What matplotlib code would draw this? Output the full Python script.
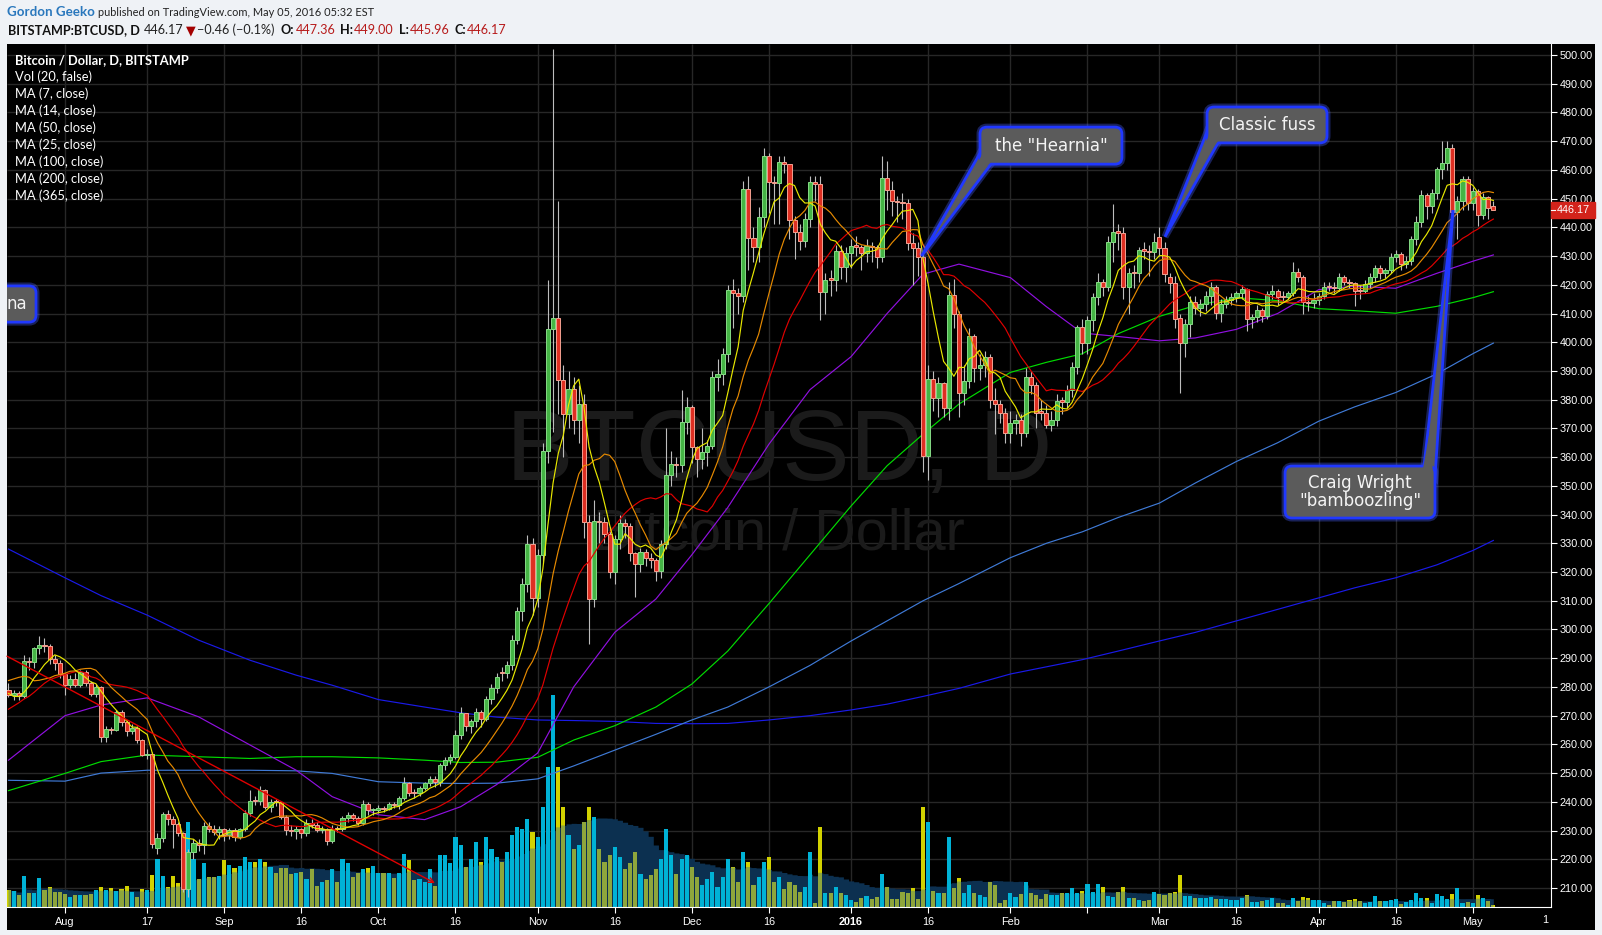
import numpy as np
import pandas as pd
import matplotlib
matplotlib.use("Agg")
import matplotlib.pyplot as plt
import matplotlib.dates as mdates
from matplotlib.patches import FancyBboxPatch, Polygon, Rectangle
from matplotlib.transforms import IdentityTransform, blended_transform_factory

W, H = 1602, 935

# ---- daily candles, Bitstamp BTCUSD, 2015-07-21 .. 2016-05-05 ----
first_day = "2015-07-21"

opens = [
    279.1, 277.2, 277.8, 276.7, 289.1, 288.8, 293.4, 294.5, 294.2, 289.9, 288.3,  # Jul
    284.5, 280.6, 282.6, 280.6, 285.2, 281.2, 277.7, 280.1, 262.6, 265.2, 265.0, 271.3, 267.9, 264.7, 265.7,
    261.7, 256.3, 256.6, 224.1, 227.3, 235.6, 234.0, 232.2, 229.0, 209.8, 222.6, 225.7, 225.0, 231.5, 230.7, 229.6,  # Aug
    230.4, 228.4, 230.1, 227.8, 230.4, 236.0, 240.4, 240.2, 244.0, 238.3, 240.0, 239.8, 234.8, 230.2, 230.0,
    230.4, 229.0, 232.7, 232.0, 230.2, 230.4, 226.4, 230.7, 230.5, 234.2, 235.4, 234.2, 232.7, 239.4, 237.1,  # Sep
    237.3, 237.7, 237.5, 239.2, 238.9, 241.2, 246.6, 243.1, 243.0, 244.7, 246.4, 248.1, 246.8, 252.8, 254.5, 255.5,
    263.2, 270.8, 266.5, 268.0, 271.4, 268.8, 275.7, 279.6, 285.0, 284.7, 287.7, 296.4, 306.4, 315.8, 329.6,  # Oct
    311.1, 326.1, 362.3, 404.5, 408.3, 387.0, 375.0, 383.8, 373.1, 378.4, 337.3, 310.6, 337.8, 337.4, 333.4,
    320.0, 331.6, 337.0, 336.2, 326.5, 322.7, 327.0, 324.9, 324.1, 320.2, 329.6, 353.7, 357.6, 357.2, 372.2,  # Nov
    377.3, 363.4, 359.5, 361.8, 364.0, 388.0, 389.0, 395.9, 418.2, 417.0, 416.2, 453.2, 436.2, 433.0, 443.5, 464.8,
    455.9, 455.5, 462.6, 461.9, 442.6, 438.5, 435.4, 442.8, 455.7, 455.0, 417.4, 422.2, 421.7, 431.9, 426.3,  # Dec
    430.9, 434.0, 433.2, 431.2, 433.5, 433.0, 429.8, 457.1, 453.0, 449.3, 448.9, 448.4, 434.4, 432.7, 429.8, 360.4,
    387.1, 380.5, 385.7, 377.0, 416.5, 409.8, 382.4, 386.6, 402.2, 390.9, 392.1, 395.0, 379.9, 378.5, 375.5,  # Jan
    368.5, 371.8, 373.1, 368.5, 387.8, 385.1, 375.9, 375.5, 371.2, 372.9, 379.9, 379.3, 383.4, 391.3, 405.2,
    399.6, 407.7, 415.6, 421.1, 419.3, 434.8, 438.9, 438.1, 419.1, 424.4, 424.0, 432.3, 431.9, 431.5,  # Feb
    436.8, 432.7, 422.6, 420.5, 408.3, 399.8, 406.3, 414.1, 411.8, 413.3, 416.1, 419.1, 410.3, 413.3, 414.7, 415.9,
    417.0, 418.4, 408.0, 408.9, 411.4, 409.1, 416.7, 417.8, 416.0, 415.9, 417.0, 424.6, 422.8, 414.1, 413.8,  # Mar
    414.7, 416.1, 419.5, 419.3, 419.0, 422.8, 421.1, 420.5, 418.3, 418.0, 420.3, 422.8, 425.7, 424.0, 425.1,
    429.6, 430.7, 427.2, 428.4, 435.8, 442.0, 451.3, 447.4, 451.8, 460.2, 462.3, 467.5, 445.5, 449.2, 456.7,  # Apr
    448.4, 452.8, 444.3, 450.7, 447.36,  # May
]
highs = [
    281.2, 279.0, 278.5, 291.0, 290.5, 293.8, 297.7, 297.0, 295.0, 291.0, 289.5,
    285.0, 284.0, 285.0, 286.0, 286.0, 282.0, 281.0, 280.5, 266.5, 266.0, 272.0, 272.0, 268.5, 267.0, 266.5,
    262.0, 258.5, 257.5, 229.0, 236.5, 237.0, 235.0, 233.0, 229.5, 223.5, 227.0, 227.0, 233.0, 233.0, 232.0, 231.5,
    231.0, 231.0, 231.0, 231.0, 237.0, 244.0, 242.0, 245.5, 244.5, 241.0, 241.0, 240.0, 235.5, 232.0, 231.5,
    231.0, 234.0, 234.0, 233.0, 231.5, 231.0, 232.0, 231.5, 235.0, 236.5, 236.0, 235.0, 240.5, 240.0, 238.0,
    239.0, 238.5, 240.0, 240.0, 242.0, 248.7, 247.0, 244.5, 245.5, 247.0, 249.0, 249.0, 253.5, 255.5, 256.5, 265.0,
    273.0, 271.0, 269.0, 272.5, 272.0, 277.0, 281.0, 285.0, 287.0, 289.0, 298.0, 308.0, 318.0, 333.0, 332.0,
    328.0, 365.0, 421.5, 502.0, 449.0, 392.0, 390.0, 388.0, 385.0, 382.0, 340.0, 345.0, 341.0, 339.0, 335.0,
    333.0, 340.0, 338.5, 337.0, 327.0, 328.5, 328.0, 326.5, 325.0, 331.0, 370.3, 362.0, 360.0, 383.5, 381.0,
    378.0, 364.0, 370.0, 366.0, 390.0, 394.0, 398.0, 420.0, 422.0, 419.0, 456.0, 458.0, 440.0, 447.0, 467.5, 466.0,
    458.0, 465.0, 465.0, 462.0, 444.0, 441.0, 445.0, 458.0, 458.0, 458.0, 424.0, 425.0, 434.0, 434.0, 433.0,
    436.0, 437.0, 434.0, 436.0, 435.0, 434.0, 465.0, 463.0, 456.0, 451.0, 452.0, 450.0, 438.0, 435.0, 431.0, 392.0,
    390.0, 388.0, 386.0, 421.0, 422.0, 411.0, 392.0, 405.0, 403.0, 396.0, 397.0, 396.0, 384.0, 380.0, 377.0,
    376.0, 375.0, 375.0, 391.0, 390.0, 386.0, 380.0, 378.0, 376.0, 382.0, 381.0, 385.0, 393.0, 406.0, 408.0,
    409.0, 417.0, 424.0, 422.0, 437.0, 448.1, 441.0, 440.0, 426.0, 427.0, 433.0, 435.0, 434.0, 438.0,
    440.0, 435.0, 424.0, 423.0, 410.0, 408.0, 416.0, 416.0, 415.0, 418.0, 421.0, 420.0, 415.0, 416.0, 417.0, 418.0,
    420.0, 419.0, 410.0, 413.0, 412.0, 418.0, 420.0, 418.5, 418.0, 418.0, 428.0, 426.0, 423.5, 416.0, 417.0,
    417.0, 421.0, 421.0, 421.0, 424.0, 423.5, 422.0, 421.0, 420.0, 421.5, 424.0, 427.0, 427.0, 426.0, 431.0,
    432.0, 431.5, 430.0, 437.0, 444.0, 453.0, 452.0, 453.5, 461.0, 470.0, 470.2, 469.0, 451.0, 458.0, 458.0,
    454.0, 453.5, 452.0, 451.0, 449.00,
]
lows = [
    276.5, 275.6, 275.5, 276.0, 286.0, 286.5, 291.5, 292.0, 288.0, 286.0, 283.0,
    277.2, 279.5, 280.0, 280.0, 280.5, 277.0, 276.5, 260.9, 261.0, 263.5, 264.5, 266.5, 263.0, 263.5, 260.5,
    256.0, 255.0, 223.8, 222.0, 226.0, 232.0, 223.8, 228.0, 208.7, 207.0, 220.0, 223.0, 222.0, 229.5, 228.5, 227.0,
    226.5, 227.0, 226.5, 227.0, 230.0, 235.0, 239.0, 239.0, 237.5, 236.5, 238.5, 234.0, 228.5, 228.0, 227.0,
    227.5, 228.0, 231.0, 229.5, 229.0, 225.0, 225.5, 229.5, 230.0, 233.0, 233.5, 232.0, 232.0, 235.5, 235.5,
    236.0, 236.5, 237.0, 238.0, 237.5, 240.5, 242.0, 241.5, 242.0, 244.0, 245.5, 245.0, 245.5, 251.0, 253.0, 255.0,
    262.0, 264.5, 264.0, 266.0, 266.0, 268.0, 274.0, 278.0, 282.0, 283.0, 286.0, 295.0, 303.0, 313.0, 305.0,
    308.0, 323.0, 358.0, 368.8, 375.0, 360.0, 370.0, 368.0, 365.0, 332.0, 295.1, 308.0, 330.0, 330.0, 318.0,
    316.0, 328.0, 332.0, 324.0, 311.4, 320.0, 322.0, 321.5, 317.0, 318.0, 328.0, 350.0, 353.0, 355.0, 368.0,
    358.0, 353.0, 356.0, 357.0, 363.0, 383.0, 385.0, 393.0, 405.0, 410.0, 414.0, 425.0, 428.0, 428.0, 440.0, 445.0,
    441.0, 441.0, 459.0, 436.0, 429.0, 432.0, 433.0, 440.0, 449.0, 407.7, 410.0, 416.0, 418.0, 422.0, 421.0,
    426.0, 430.0, 425.0, 428.0, 428.0, 426.0, 428.0, 446.0, 444.0, 442.0, 443.0, 432.0, 420.0, 423.0, 355.0, 352.0,
    376.0, 374.0, 374.0, 373.0, 405.0, 374.0, 378.0, 384.0, 386.0, 387.0, 388.0, 377.0, 368.0, 372.0, 365.0,
    365.0, 368.0, 364.0, 367.0, 382.0, 370.0, 373.0, 370.0, 369.0, 371.0, 375.0, 377.0, 381.0, 389.0, 396.0,
    396.0, 404.0, 413.0, 416.0, 418.0, 428.0, 432.0, 415.0, 410.0, 419.0, 421.0, 429.0, 423.0, 429.0,
    430.0, 421.0, 417.0, 405.0, 382.4, 395.0, 402.0, 410.0, 409.0, 411.0, 413.0, 408.0, 407.0, 412.0, 413.0, 414.0,
    415.0, 404.0, 405.0, 407.0, 407.0, 408.0, 415.0, 413.0, 414.0, 415.0, 416.0, 421.0, 410.0, 411.0, 412.0,
    413.0, 415.0, 418.0, 417.0, 418.0, 420.0, 419.0, 412.6, 415.0, 417.0, 419.0, 421.0, 422.0, 422.5, 424.0,
    428.0, 425.0, 426.0, 427.0, 434.0, 440.0, 443.0, 445.0, 450.0, 457.0, 460.0, 443.0, 435.8, 446.0, 446.0,
    446.0, 440.5, 443.0, 443.0, 445.96,
]
closes = [
    277.2, 277.8, 276.7, 289.1, 288.8, 293.4, 294.5, 294.2, 289.9, 288.3, 284.5,
    280.6, 282.6, 280.6, 285.2, 281.2, 277.7, 280.1, 262.6, 265.2, 265.0, 271.3, 267.9, 264.7, 265.7, 261.7,
    256.3, 256.6, 225.3, 227.3, 235.6, 234.0, 232.2, 229.0, 209.8, 222.6, 225.7, 225.0, 231.5, 230.7, 229.6, 230.4,
    228.4, 230.1, 227.8, 230.4, 236.0, 240.4, 240.2, 244.0, 238.3, 240.0, 239.8, 234.8, 230.2, 230.0, 230.4,
    229.0, 232.7, 232.0, 230.2, 230.4, 226.4, 230.7, 230.5, 234.2, 235.4, 234.2, 232.7, 239.4, 237.1, 237.3,
    237.7, 237.5, 239.2, 238.9, 241.2, 246.6, 243.1, 243.0, 244.7, 246.4, 248.1, 246.8, 252.8, 254.5, 255.5, 263.2,
    270.8, 266.5, 268.0, 271.4, 268.8, 275.7, 279.6, 283.5, 284.7, 287.7, 296.4, 306.4, 315.8, 329.6, 311.1,
    326.1, 362.3, 404.5, 408.3, 387.0, 375.0, 383.8, 373.1, 378.4, 337.3, 310.6, 337.8, 337.4, 333.4, 320.0,
    331.6, 337.0, 336.2, 326.5, 322.7, 327.0, 324.9, 324.1, 320.2, 329.6, 353.7, 357.6, 357.2, 372.2, 377.3,
    363.4, 359.5, 361.8, 364.0, 388.0, 389.0, 395.9, 418.2, 417.0, 416.2, 453.2, 436.2, 433.0, 443.5, 464.8, 455.9,
    455.5, 462.6, 461.9, 442.6, 438.5, 435.4, 442.8, 455.7, 455.0, 417.4, 421.7, 421.7, 431.9, 426.3, 430.9,
    433.6, 433.2, 431.2, 433.5, 433.0, 429.8, 457.1, 453.0, 449.3, 448.9, 448.4, 434.4, 432.7, 429.8, 360.4, 387.1,
    380.5, 385.7, 377.0, 416.5, 409.8, 382.4, 386.6, 402.2, 390.9, 392.1, 395.0, 379.9, 378.5, 375.5, 368.5,
    371.8, 373.1, 368.5, 387.8, 385.1, 375.5, 375.5, 371.2, 372.9, 379.6, 379.3, 383.4, 391.3, 405.2, 399.6,
    407.7, 415.6, 421.1, 419.3, 434.8, 438.5, 438.1, 419.1, 424.0, 424.0, 432.1, 431.9, 431.5, 435.0,
    432.7, 423.7, 420.5, 408.0, 399.8, 406.3, 414.1, 411.8, 413.3, 416.1, 419.1, 410.3, 413.3, 414.7, 415.9, 417.0,
    418.4, 408.0, 408.9, 411.4, 409.1, 416.7, 417.8, 415.6, 415.9, 417.0, 424.6, 422.8, 414.1, 413.8, 414.7,
    416.1, 419.1, 419.3, 419.0, 422.8, 421.1, 420.5, 418.0, 418.0, 420.3, 422.8, 425.7, 424.0, 425.1, 429.6,
    430.7, 427.2, 428.4, 435.8, 442.0, 451.3, 447.4, 451.8, 460.2, 462.3, 467.5, 445.5, 449.2, 456.7, 448.4,
    452.8, 444.3, 450.7, 446.6, 446.17,
]
# volume, in pane pixels of bar height
volumes = [
    17, 16, 12, 31, 14, 14, 29, 17, 20, 15, 15,
    13, 10, 12, 12, 12, 13, 17, 20, 17, 19, 16, 18, 21, 15, 10, 18, 17, 32, 48, 31, 20, 31, 24, 40, 85, 48,
    28, 44, 30, 30, 31,
    47, 42, 39, 41, 50, 45, 45, 48, 45, 40, 34, 39, 39, 33, 34, 35, 28, 38, 21, 25, 27, 38, 25, 48, 44, 30,
    34, 38, 39, 41,
    34, 34, 34, 29, 34, 53, 47, 27, 28, 25, 38, 21, 52, 52, 44, 70, 62, 40, 48, 65, 45, 70, 58, 50, 45, 55,
    72, 80, 78, 88, 75,
    70, 100, 140, 212, 140, 100, 72, 58, 62, 85, 100, 90, 58, 45, 52, 60, 50, 38, 44, 55, 33, 28, 32, 38, 48,
    78, 52, 33, 48, 52,
    40, 30, 22, 28, 35, 20, 30, 48, 40, 25, 55, 45, 22, 30, 45, 50, 25, 30, 18, 25, 22, 15, 20, 55, 4, 80,
    14, 14, 20, 14, 12,
    7, 5, 9, 11, 8, 10, 33, 20, 8, 8, 15, 14, 19, 8, 100, 85, 16, 14, 14, 70, 19, 29, 14, 22, 14, 12, 10, 25,
    22, 4, 7,
    14, 10, 13, 25, 14, 12, 8, 13, 12, 12, 14, 14, 19, 14, 16, 23, 15, 23, 20, 11, 10, 15, 20, 9, 9, 7, 6, 7, 15,
    13, 12, 14, 15, 32, 11, 11, 9, 9, 9, 10, 8, 8, 8, 7, 7, 9, 12, 5, 5, 6, 7, 9, 4, 4, 2, 9, 6, 10, 9, 7,
    7, 4, 2, 6, 6, 5, 7, 8, 6, 4, 5, 11, 6, 6, 7, 8, 3, 5, 7, 14, 9, 9, 4, 13, 11, 8, 13, 19, 4, 5,
    4, 12, 9, 6, 2,
]
# closes of the 24 days before the first candle (needed for the short MAs)
prior_closes = [250, 249, 257, 264, 258, 255, 256, 260, 271, 269, 266, 270, 269, 284, 293, 311,
                292, 288, 285, 277, 279, 274, 273, 279]

# long moving averages
ma_dates = ["2015-07-21", "2015-08-01", "2015-08-08", "2015-08-17", "2015-08-27", "2015-09-06",
            "2015-09-15", "2015-09-22", "2015-10-01", "2015-10-10", "2015-10-17", "2015-10-24",
            "2015-11-01", "2015-11-08", "2015-11-16", "2015-11-24", "2015-12-01", "2015-12-08",
            "2015-12-16", "2015-12-24", "2016-01-01", "2016-01-08", "2016-01-15", "2016-01-22",
            "2016-02-01", "2016-02-08", "2016-02-15", "2016-02-22", "2016-03-01", "2016-03-08",
            "2016-03-16", "2016-03-24", "2016-04-01", "2016-04-08", "2016-04-16", "2016-04-24",
            "2016-05-01", "2016-05-05"]
ma50 = [254.5, 270.0, 273.7, 276.2, 269.6, 259.8, 251.0, 241.8, 235.5, 233.8, 238.3, 246.0, 257.0,
        280.0, 299.0, 310.6, 326.0, 342.5, 364.5, 383.5, 395.0, 410.0, 423.7, 427.2, 422.5, 412.4,
        403.2, 402.0, 400.5, 401.5, 404.5, 410.0, 418.3, 419.5, 418.8, 424.0, 428.2, 430.4]
ma100 = [243.9, 249.9, 254.0, 256.3, 255.7, 255.1, 255.7, 255.7, 255.3, 254.5, 253.7, 253.8, 255.5,
         261.5, 266.5, 273.0, 281.0, 292.5, 309.0, 326.0, 343.0, 357.0, 368.0, 378.5, 389.5, 393.0,
         396.0, 403.0, 409.0, 412.8, 415.5, 414.5, 411.7, 411.0, 410.1, 412.5, 415.5, 417.6]
ma200 = [247.5, 247.2, 250.0, 251.0, 251.0, 251.0, 250.8, 249.9, 247.0, 246.5, 246.4, 246.5, 248.0,
         252.5, 258.0, 263.5, 268.5, 273.0, 280.0, 287.5, 296.0, 303.0, 310.0, 316.0, 325.0, 330.0,
         334.0, 339.0, 344.0, 351.0, 358.5, 365.0, 372.5, 377.5, 382.5, 389.0, 396.0, 399.7]
ma365 = [328.0, 318.0, 311.8, 305.0, 296.3, 289.3, 284.1, 280.6, 275.6, 273.0, 271.0, 269.5, 268.5,
         268.3, 268.0, 267.3, 267.2, 267.3, 268.5, 270.0, 272.0, 274.0, 276.7, 279.5, 284.5, 287.0,
         289.5, 292.5, 296.0, 299.0, 303.0, 307.0, 311.0, 314.5, 318.0, 322.5, 327.5, 331.0]

tick_dates = ["2015-08-01", "2015-08-17", "2015-09-01", "2015-09-16", "2015-10-01", "2015-10-16",
              "2015-11-01", "2015-11-16", "2015-12-01", "2015-12-16", "2016-01-01", "2016-01-16",
              "2016-02-01", "2016-02-16", "2016-03-01", "2016-03-16", "2016-04-01", "2016-04-16",
              "2016-05-01"]
tick_labels = ["Aug", "17", "Sep", "16", "Oct", "16", "Nov", "16", "Dec", "16", "2016", "16",
               "Feb", "", "Mar", "16", "Apr", "16", "May"]
price_ticks = list(range(210, 501, 10))
last_price = 446.17

legend_lines = ["Vol (20, false)", "MA (7, close)", "MA (14, close)", "MA (50, close)",
                "MA (25, close)", "MA (100, close)", "MA (200, close)", "MA (365, close)"]

# callouts: text, box (left date, right date, top price, bottom price), pointer tip, corner
callouts = [
    ('the "Hearnia"', ("2016-01-26 02:00", "2016-02-22 17:00", 474.9, 462.0),
     ("2016-01-14 17:00", 430.0), "bl"),
    ("Classic fuss", ("2016-03-10 06:30", "2016-04-02 15:00", 481.9, 469.4),
     ("2016-03-02 02:20", 436.7), "bl"),
    ('Craig Wright\n"bamboozling"', ("2016-03-25 11:00", "2016-04-23 15:20", 356.9, 338.8),
     ("2016-04-27 03:30", 446.0), "tr"),
    ("na", ("2015-07-18 23:00", "2015-07-26 08:40", 419.6, 407.0), None, None),
]
trend_start = ("2015-07-20 17:05", 290.7)
trend_end = ("2015-10-12 00:00", 211.7)

# ---------------------------------------------------------------
n = len(closes)
dates = pd.date_range(first_day, periods=n, freq="D")
xd = mdates.date2num(dates)
o = np.array(opens); h = np.array(highs); l = np.array(lows); c = np.array(closes)
v = np.array(volumes, dtype=float)
up = c >= o

cs = pd.Series(prior_closes + closes, dtype=float)
k = len(prior_closes)
ma7 = cs.rolling(7, min_periods=1).mean().values[k:]
ma14 = cs.rolling(14, min_periods=1).mean().values[k:]
ma25 = cs.rolling(25, min_periods=1).mean().values[k:]
vol_ma = pd.Series(v).rolling(20, min_periods=1).mean().values
mx = mdates.date2num(pd.to_datetime(ma_dates))

fig = plt.figure(figsize=(W / 100, H / 100), dpi=100, facecolor="#eff2f6")


def rect(x0, y0, x1, y1):
    return [x0 / W, 1 - y1 / H, (x1 - x0) / W, (y1 - y0) / H]


back = fig.add_axes(rect(7, 44, 1595, 930))
back.set_facecolor("black")
back.set_xticks([]); back.set_yticks([])
for s in back.spines.values():
    s.set_visible(False)

axv = fig.add_axes(rect(7, 44, 1551, 907))
ax = fig.add_axes(rect(7, 44, 1551, 907), sharex=axv)
ax.patch.set_visible(False)
axv.set_facecolor("black")
for s in axv.spines.values():
    s.set_visible(False)
axv.tick_params(bottom=False, labelbottom=False, left=False, labelleft=False)

x_left = mdates.date2num(pd.Timestamp("2015-07-20 17:05"))
x_right = mdates.date2num(pd.Timestamp("2016-05-16 05:15"))
ax.set_xlim(x_left, x_right)
ax.set_ylim(203.39, 503.83)
axv.set_ylim(0, 863)

# grid
tx = mdates.date2num(pd.to_datetime(tick_dates))
gridc = "#272727"
axv.vlines(tx, 0, 1, transform=blended_transform_factory(axv.transData, axv.transAxes),
           color=gridc, lw=1, zorder=0.3)
axv.hlines(price_ticks, 0, 1, transform=blended_transform_factory(axv.transAxes, ax.transData),
           color=gridc, lw=1, zorder=0.3)

# watermark
axv.text(0.5, 0.495, "BTCUSD, D", transform=axv.transAxes, ha="center", va="baseline",
         fontsize=73, color="#1b1b1b", family="Liberation Sans", zorder=0.5)
axv.text(0.5, 0.414, "Bitcoin / Dollar", transform=axv.transAxes, ha="center", va="baseline",
         fontsize=41.5, color="#1b1b1b", family="Liberation Sans", zorder=0.5)

# volume
area = axv.fill_between(xd, 0, vol_ma, step="mid", color="#0c3050", lw=0, zorder=1)
vcol = np.where(up, "#00b2d6", "#d2d200")
axv.bar(xd, v, width=0.8, color=vcol, lw=0, zorder=2)
olive = axv.bar(xd[~up], v[~up], width=0.8, color="#8ea63c", lw=0, zorder=2.1)
apath = area.get_paths()[0]
for r in olive:
    r.set_clip_path(apath, area.get_transform())

# moving averages
ma_lw = 0.85
ax.plot(mx, ma365, color="#1a1ae8", lw=ma_lw, zorder=2)
ax.plot(mx, ma200, color="#3f7ad6", lw=ma_lw, zorder=2)
ax.plot(mx, ma100, color="#00dc00", lw=ma_lw, zorder=2)
ax.plot(mx, ma50, color="#9010e0", lw=ma_lw, zorder=2)
ax.plot(xd, ma25, color="#e00000", lw=ma_lw, zorder=5)
ax.plot(xd, ma14, color="#e68a00", lw=ma_lw, zorder=5)
ax.plot(xd, ma7, color="#e8e800", lw=ma_lw, zorder=5)

# candles
ax.vlines(xd, l, h, color="#bdbdbd", lw=0.8, zorder=3)
bot = np.minimum(o, c)
hgt = np.maximum(np.abs(c - o), 0.35)
ax.bar(xd[up], hgt[up], bottom=bot[up], width=0.8, color="#45b445", edgecolor="#86da86",
       lw=0.7, zorder=4)
ax.bar(xd[~up], hgt[~up], bottom=bot[~up], width=0.8, color="#de2f22", edgecolor="#f4a090",
       lw=0.7, zorder=4)

# trend arrow
ax.annotate("", xy=(mdates.date2num(pd.Timestamp(trend_end[0])), trend_end[1]),
            xytext=(mdates.date2num(pd.Timestamp(trend_start[0])), trend_start[1]),
            arrowprops=dict(arrowstyle="->", color="#e00000", lw=1.0, shrinkA=0, shrinkB=0,
                            mutation_scale=9), zorder=6)

# axes styling
ax.spines["top"].set_visible(False)
ax.spines["left"].set_visible(False)
ax.spines["right"].set_color("white")
ax.spines["bottom"].set_color("white")
ax.yaxis.tick_right()
ax.set_yticks(price_ticks)
ax.set_yticklabels([f"{p:.2f}" for p in price_ticks])
ax.tick_params(axis="y", colors="white", length=4, width=0.8, labelsize=7.8, pad=2)
ax.set_xticks(tx)
ax.set_xticklabels(tick_labels)
ax.tick_params(axis="x", colors="white", length=4, width=0.8, labelsize=7.8, pad=3)
for t in ax.get_xticklabels() + ax.get_yticklabels():
    t.set_family("Liberation Sans")
ax.get_xticklabels()[tick_labels.index("2016")].set_fontweight("bold")
ax.text(mdates.date2num(pd.Timestamp("2016-05-15")), -0.0151, "1", color="white", fontsize=7.8,
        family="Liberation Sans", ha="center", va="center", clip_on=False,
        transform=blended_transform_factory(ax.transData, ax.transAxes))

# last price marker
bt = blended_transform_factory(ax.transAxes, ax.transData)
ax.add_patch(Rectangle((1.0, last_price - 2.75), 44 / 1544, 5.5, transform=bt, color="#d3231b",
                       clip_on=False, zorder=20))
ax.plot([1.0, 1.0 + 4 / 1544], [last_price, last_price], transform=bt, color="white", lw=0.8,
        clip_on=False, zorder=21)
ax.text(1.0 + 22.5 / 1544, last_price, f"{last_price:.2f}", transform=bt, color="white",
        fontsize=7.8, family="Liberation Sans", ha="center", va="center", clip_on=False, zorder=21)


# callouts
def to_disp(d, p):
    return ax.transData.transform((mdates.date2num(pd.Timestamp(d)), p))


box_fc = "#5b5b5b"
for text, box, tip, corner in callouts:
    x0, y1 = to_disp(box[0], box[2])
    x1, y0 = to_disp(box[1], box[3])
    idt = IdentityTransform()
    for lw, ec, al, zz in [(5, "#4a60ff", 0.35, 7.8), (2.0, "#2038ff", 1.0, 9)]:
        ax.add_patch(FancyBboxPatch((x0, y0), x1 - x0, y1 - y0,
                                    boxstyle="round,pad=0,rounding_size=7", transform=idt,
                                    fc=box_fc if al == 1.0 else "none", ec=ec, lw=lw, alpha=al,
                                    zorder=zz))
    if tip is not None:
        tx_, ty_ = to_disp(*tip)
        if corner == "bl":
            b1, b2 = (x0, y0 + 11), (x0 + 11, y0)
            i1, i2 = (x0 + 3, y0 + 12), (x0 + 12, y0 + 3)
        else:
            b1, b2 = (x1 - 11, y1), (x1, y1 - 11)
            i1, i2 = (x1 - 12, y1 - 3), (x1 - 3, y1 - 12)
        ax.add_patch(Polygon([b1, (tx_, ty_), b2], closed=True, transform=idt, fc="none",
                             ec="#4a60ff", lw=5, alpha=0.35, zorder=7.8))
        ax.add_patch(Polygon([b1, (tx_, ty_), b2], closed=True, transform=idt, fc=box_fc,
                             ec="#2038ff", lw=2.0, zorder=8.5))
        mxp = (b1[0] + b2[0]) / 2 + 0.3 * (tx_ - (b1[0] + b2[0]) / 2)
        myp = (b1[1] + b2[1]) / 2 + 0.3 * (ty_ - (b1[1] + b2[1]) / 2)
        ax.add_patch(Polygon([i1, (mxp, myp), i2], closed=True, transform=idt, fc=box_fc,
                             ec="none", zorder=9.5))
    ax.text((x0 + x1) / 2, (y0 + y1) / 2, text, transform=IdentityTransform(), ha="center",
            va="center", color="#f4f4f4", fontsize=12, family="DejaVu Sans", linespacing=1.0,
            zorder=10, clip_on=True)

# legend text
fig.text(15 / W, 1 - 60 / H, "Bitcoin / Dollar, D, BITSTAMP", color="white", fontsize=9.3,
         fontweight="bold", family="Lato", va="center")
for i, s in enumerate(legend_lines):
    fig.text(15 / W, 1 - (77.2 + 17 * i) / H, s, color="white", fontsize=9.3, family="Lato",
             va="center")

# header
renderer = fig.canvas.get_renderer()


def run(pieces, x_px, base_px):
    xc = x_px
    for s, col, wt, size, gap in pieces:
        t = fig.text(xc / W, 1 - base_px / H, s, color=col, fontweight=wt, fontsize=size,
                     family=["Lato", "DejaVu Sans"], va="baseline")
        xc = t.get_window_extent(renderer).x1 + gap


red = "#b71c1c"
run([("Gordon Geeko", "#2a78bd", "bold", 9.6, 3),
     ("published on TradingView.com, May 05, 2016 05:32 EST", "#222222", "normal", 7.95, 0)],
    7, 16.5)
sz = 9.1
run([("BITSTAMP:BTCUSD, D", "#111111", "bold", sz, 4), ("446.17", "#222222", "normal", sz, 2),
     ("\u25bc", "#a40000", "normal", sz, 2), ("\u22120.46 (\u22120.1%)", "#222222", "normal", sz, 6),
     ("O:", "#111111", "bold", sz, 1), ("447.36", red, "normal", sz, 5),
     ("H:", "#111111", "bold", sz, 1), ("449.00", red, "normal", sz, 5),
     ("L:", "#111111", "bold", sz, 1), ("445.96", red, "normal", sz, 5),
     ("C:", "#111111", "bold", sz, 1), ("446.17", red, "normal", sz, 0)],
    8, 34)

fig.savefig("out.png", dpi=100, facecolor=fig.get_facecolor())
